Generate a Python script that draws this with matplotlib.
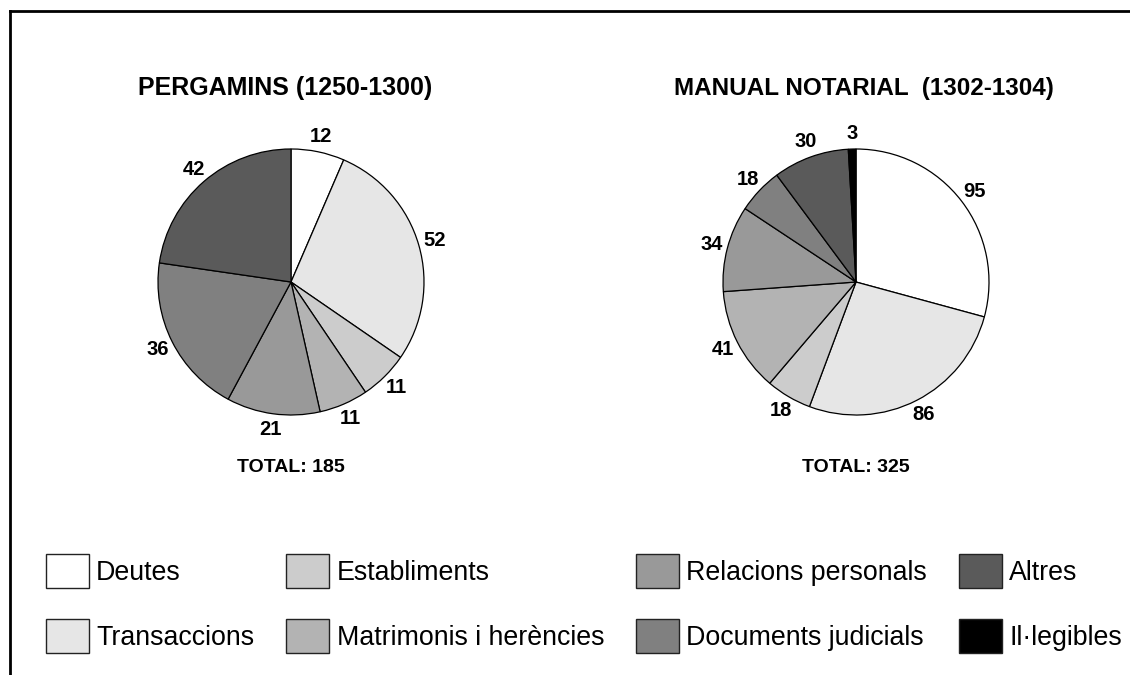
import matplotlib
matplotlib.use("Agg")
import matplotlib.pyplot as plt
from matplotlib.patches import Patch
from matplotlib.lines import Line2D

# ─────────────────────────────────────────────
# DATA
# ─────────────────────────────────────────────
categories = ["Deutes", "Transaccions", "Establiments", "Matrimonis i herències",
              "Relacions personals", "Documents judicials", "Altres", "Il·legibles"]
colors = ["#ffffff", "#e6e6e6", "#cccccc", "#b3b3b3",
          "#999999", "#808080", "#5a5a5a", "#000000"]

pergamins_title = "PERGAMINS (1250-1300)"
pergamins_values = [12, 52, 11, 11, 21, 36, 42, 0]

manual_title = "MANUAL NOTARIAL  (1302-1304)"
manual_values = [95, 86, 18, 41, 34, 18, 30, 3]

W, H = 1130, 675
plt.rcParams['font.family'] = ['Liberation Sans', 'DejaVu Sans']

fig = plt.figure(figsize=(W / 100, H / 100), dpi=100)
fig.patch.set_facecolor("white")


def px_axes(cx, cy, half):
    """Square axes centred on pixel (cx, cy) measured from the top-left."""
    return fig.add_axes([(cx - half) / W, 1 - (cy + half) / H, 2 * half / W, 2 * half / H])


def draw_pie(cx, cy, radius_px, values, title, title_x, title_size):
    half = 200
    ax = px_axes(cx, cy, half)
    lim = half / radius_px
    vals = [v for v in values if v > 0]
    cols = [c for v, c in zip(values, colors) if v > 0]
    wedges, texts = ax.pie(vals, colors=cols, startangle=90, counterclock=False,
                           labels=[str(v) for v in vals], labeldistance=1.12,
                           wedgeprops=dict(edgecolor="black", linewidth=0.9),
                           textprops=dict(fontsize=14.5, fontweight="bold"))
    for t in texts:
        t.set_ha("center")
        t.set_va("center")
    ax.set_xlim(-lim, lim)
    ax.set_ylim(-lim, lim)
    ax.set_aspect("equal")
    ax.axis("off")
    fig.text(title_x / W, 1 - 88 / H, title, ha="center", va="center",
             fontsize=title_size, fontweight="bold")
    fig.text(cx / W, 1 - 467 / H, f"TOTAL: {sum(values)}", ha="center", va="center",
             fontsize=14, fontweight="bold")


draw_pie(291, 282, 133, pergamins_values, pergamins_title, 285, 18)
draw_pie(856, 282, 133, manual_values, manual_title, 864, 17.5)

# legend
handles = [Patch(facecolor=c, edgecolor="#222222", linewidth=1.0) for c in colors]
fig.legend(handles, categories, ncol=4, loc="upper left",
           bbox_to_anchor=(46 / W, 1 - 554 / H), frameon=False,
           fontsize=19.3, handlelength=1.6, handleheight=1.575,
           handletextpad=0.27, columnspacing=1.2, labelspacing=1.15,
           borderpad=0, borderaxespad=0)

# outer frame (only top and left edges are visible)
fig.add_artist(Line2D([10 / W, 1.0], [1 - 11 / H, 1 - 11 / H], color="black", linewidth=2))
fig.add_artist(Line2D([10 / W, 10 / W], [1 - 11 / H, 0.0], color="black", linewidth=2))

fig.savefig("out.png", dpi=100)
